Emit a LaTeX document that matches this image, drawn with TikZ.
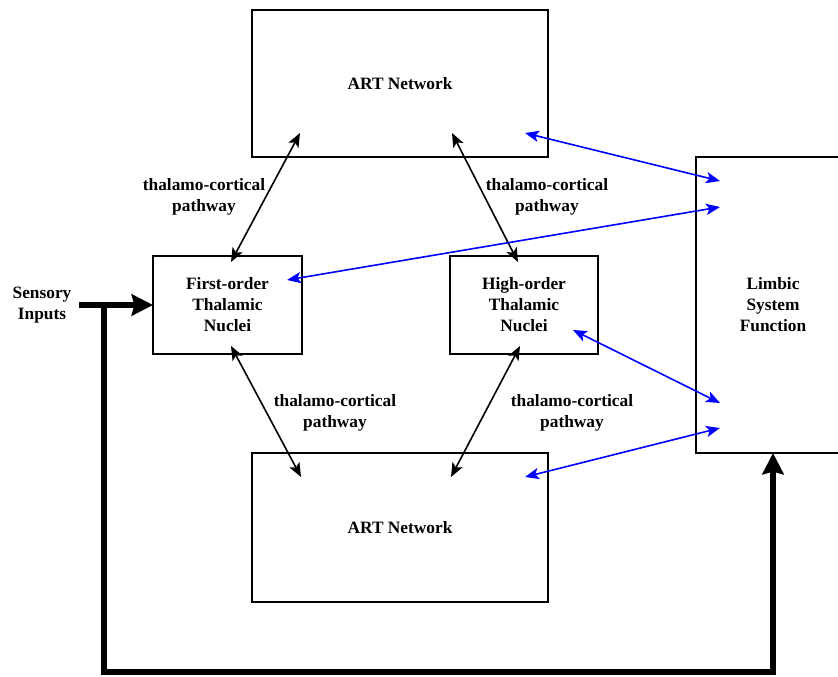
\documentclass[tikz,border=0pt]{standalone}
\usepackage{fontspec}
\setmainfont{Liberation Serif}
\usetikzlibrary{arrows.meta,calc}
\tikzset{
  box/.style={draw=black,line width=1.3pt,inner sep=0pt,outer sep=0pt,align=center,font=\fontsize{13}{15.75}\selectfont\bfseries},
  lbl/.style={inner sep=0pt,align=center,font=\fontsize{13}{15.75}\selectfont\bfseries},
  blk/.style={line width=1.2pt,{Stealth[length=10.5pt,width=8.5pt,inset=2.5pt]}-{Stealth[length=10.5pt,width=8.5pt,inset=2.5pt]}},
  blu/.style={draw={rgb,255:red,0;green,0;blue,255},line width=1.2pt,{Stealth[length=10.5pt,width=8.5pt,inset=2.5pt]}-{Stealth[length=10.5pt,width=8.5pt,inset=2.5pt]}},
  thickln/.style={line width=4.5pt},
  thickarr/.style={line width=4.5pt,-{Stealth[length=16pt,width=16pt,inset=2pt]}}
}
\begin{document}
\begin{tikzpicture}[x=0.75pt,y=-0.75pt]
\useasboundingbox (0,0) rectangle (838,677);
\node[box,minimum width=222pt,minimum height=110.25pt] (art1) at (400,83.5) {ART Network};
\node[box,minimum width=111.75pt,minimum height=73.5pt] (first) at (227.5,305) {First-order\\Thalamic\\Nuclei};
\node[box,minimum width=111pt,minimum height=73.5pt] (high) at (524,305) {High-order\\Thalamic\\Nuclei};
\node[box,minimum width=222pt,minimum height=111.75pt] (art2) at (400,527.5) {ART Network};
\node[box,minimum width=115.5pt,minimum height=222pt] (limbic) at (773,305) {Limbic\\System\\Function};
\node[lbl] (sens) at (42,305) {Sensory\\Inputs};
\node[lbl] (l1) at (204,197) {thalamo-cortical\\pathway};
\node[lbl] (l2) at (547,197) {thalamo-cortical\\pathway};
\node[lbl] (l3) at (335,413) {thalamo-cortical\\pathway};
\node[lbl] (l4) at (572,413) {thalamo-cortical\\pathway};
% black connectors
\draw[blk] ($(first.north)+(3.5,6)$) -- ($(art1.south)+(-100,-24)$);
\draw[blk] ($(high.north)+(-6,6)$) -- ($(art1.south)+(52,-24)$);
\draw[blk] ($(first.south)+(3.5,-8)$) -- ($(art2.north)+(-99,24)$);
\draw[blk] ($(high.south)+(-4,-8)$) -- ($(art2.north)+(51,24)$);
% blue connectors
\draw[blu] ($(art1.south east)+(-23,-24)$) -- ($(limbic.north west)+(24,24)$);
\draw[blu] ($(first.north east)+(-15,24)$) -- ($(limbic.north west)+(24,50)$);
\draw[blu] ($(high.south east)+(-25,-24)$) -- ($(limbic.south west)+(24,-50)$);
\draw[blu] ($(art2.north east)+(-23,24)$) -- ($(limbic.south west)+(24,-25)$);
% thick sensory line
\coordinate (s0) at (79,305);
\coordinate (j) at (104,305);
\draw[thickarr] (s0) -- (first.west);
\draw[thickln,line join=miter] (j) -- (104,672) -| ($(limbic.south)+(0,14)$);
\draw[thickarr] ($(limbic.south)+(0,24)$) -- (limbic.south);
\end{tikzpicture}
\end{document}
